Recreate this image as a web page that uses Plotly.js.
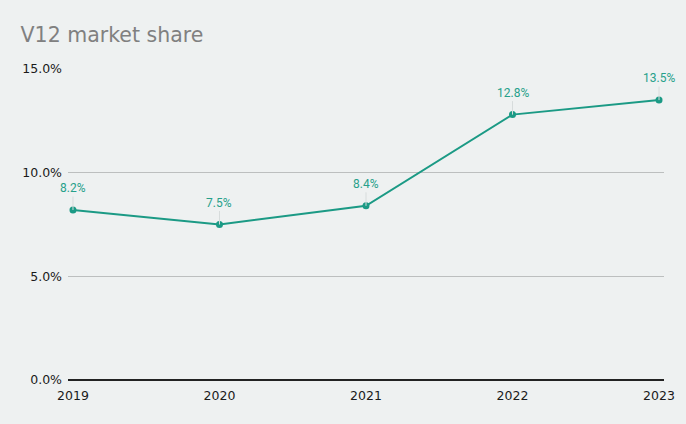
<!DOCTYPE html>
<html>
<head>
<meta charset="utf-8">
<script src="https://cdn.plot.ly/plotly-3.0.1.min.js"></script>
<style>html,body{margin:0;padding:0;background:#eef1f1;}</style>
</head>
<body>
<div id="chart" style="width:686px;height:424px;"></div>
<script>
const years = ['2019', '2020', '2021', '2022', '2023'];
const share = [8.2, 7.5, 8.4, 12.8, 13.5];
const yTicks = [0, 5, 10, 15];
const yTickText = ['0.0%', '5.0%', '10.0%', '15.0%'];

const lineColor = '#1b9a85';

const trace = {
  x: years.map(Number),
  y: share,
  type: 'scatter',
  mode: 'lines+markers',
  line: {color: lineColor, width: 2},
  marker: {color: lineColor, size: 7},
  cliponaxis: false,
  hoverinfo: 'skip'
};

const annotations = years.map((yr, i) => ({
  x: Number(yr),
  y: share[i],
  xref: 'x', yref: 'y',
  text: share[i].toFixed(1) + '%',
  showarrow: true,
  arrowhead: 0,
  arrowwidth: 1,
  arrowcolor: '#d7dcdc',
  ax: 0,
  ay: -22,
  font: {family: 'Roboto, sans-serif', size: 12, color: '#26a08a'}
}));

const layout = {
  width: 686,
  height: 424,
  paper_bgcolor: '#eef1f1',
  plot_bgcolor: '#eef1f1',
  margin: {l: 68, r: 22, t: 69, b: 44},
  title: {
    text: 'V12 market share',
    x: 0.03, xanchor: 'left',
    y: 0.917, yanchor: 'middle',
    font: {family: 'DejaVu Sans, sans-serif', size: 20.5, color: '#808080'}
  },
  showlegend: false,
  xaxis: {
    range: [2018.966, 2023.034],
    tickvals: years.map(Number),
    ticktext: years,
    showgrid: false,
    zeroline: false,
    showline: false,
    ticks: '',
    ticklabelstandoff: 6,
    tickfont: {family: 'DejaVu Sans, sans-serif', size: 12.5, color: '#1a1a1a'}
  },
  yaxis: {
    range: [0, 15],
    tickvals: yTicks,
    ticktext: yTickText,
    showgrid: true,
    gridcolor: '#bcbfbf',
    gridwidth: 1,
    zeroline: true,
    zerolinecolor: '#222',
    zerolinewidth: 1.5,
    ticks: '',
    ticklabelstandoff: 5,
    tickfont: {family: 'DejaVu Sans, sans-serif', size: 12.5, color: '#1a1a1a'}
  },
  annotations: annotations
};

Plotly.newPlot('chart', [trace], layout, {displayModeBar: false, staticPlot: true});
</script>
</body>
</html>
